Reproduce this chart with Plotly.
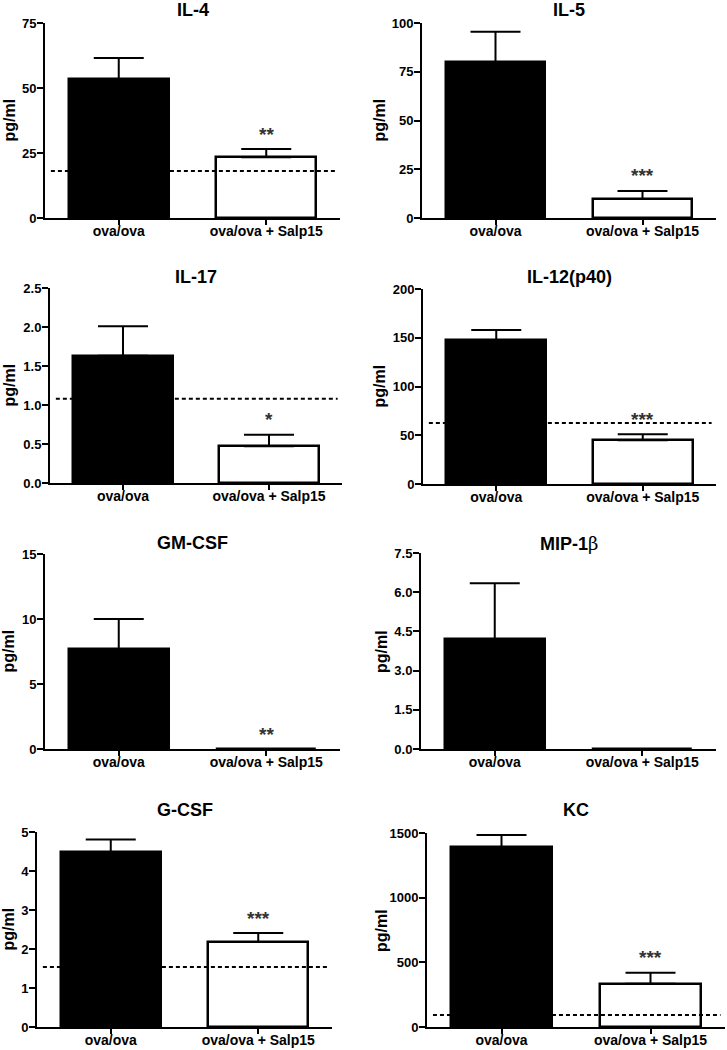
import plotly.graph_objects as go

# ---------------- data ----------------
categories = ["ova/ova", "ova/ova + Salp15"]
panel_titles = ["IL-4", "IL-5", "IL-17", "IL-12(p40)", "GM-CSF",
                "MIP-1<span style=\"font-family:DejaVu Serif;font-weight:normal\">β</span>", "G-CSF", "KC"]
means = [
    [53.5, 23.4],
    [80.0, 9.8],
    [1.63, 0.47],
    [147.5, 45.0],
    [7.7, 0.0],
    [4.21, 0.0],
    [4.48, 2.18],
    [1390, 335],
]
sems = [
    [8.0, 3.1],
    [15.5, 4.1],
    [0.38, 0.15],
    [10.5, 6.0],
    [2.3, 0.0],
    [2.13, 0.0],
    [0.33, 0.23],
    [95, 85],
]
baselines = [18.1, None, 1.08, 62.6, None, None, 1.54, 93]
stars = ["**", "***", "*", "***", "**", "", "***", "***"]
tick_vals = [
    [0, 25, 50, 75],
    [0, 25, 50, 75, 100],
    [0, 0.5, 1.0, 1.5, 2.0, 2.5],
    [0, 50, 100, 150, 200],
    [0, 5, 10, 15],
    [0, 1.5, 3.0, 4.5, 6.0, 7.5],
    [0, 1, 2, 3, 4, 5],
    [0, 500, 1000, 1500],
]
tick_formats = ["d", "d", ".1f", "d", "d", ".1f", "d", "d"]

# ---------------- layout (pixels) ----------------
W, H = 727, 1050
# (x_left, x_right, y_top, y_bottom) of each plot area in px
boxes = [
    (45, 340, 23, 218),
    (422, 716, 23, 218),
    (50, 342, 288, 483),
    (423, 716, 289, 484),
    (45, 340, 554, 749),
    (421, 716, 553, 749),
    (37, 332, 832, 1027),
    (427, 725, 833, 1027),
]
title_y = [10, 10, 277, 277, 543, 543, 810, 810]
ylabel_x = [9, 379, 9, 379, 8, 381, 8, 381]

FONT = "Liberation Sans, Arial, sans-serif"

def px(x):
    return x / W

def py(y):
    return 1 - y / H

fig = go.Figure()
annotations = []
shapes = []
layout_axes = {}

for i in range(8):
    n = i + 1
    xa = "x" if n == 1 else f"x{n}"
    ya = "y" if n == 1 else f"y{n}"
    xl, xr, yt, yb = boxes[i]
    fig.add_trace(go.Bar(
        x=[0, 1], y=means[i], xaxis=xa, yaxis=ya, width=0.68,
        marker=dict(color=["black", "white"], line=dict(color="black", width=2.5)),
        error_y=dict(type="data", array=sems[i], arrayminus=[0, 0], symmetric=False,
                     color="black", thickness=2, width=25, visible=True),
        showlegend=False, hoverinfo="skip",
    ))
    top = tick_vals[i][-1]
    key_x = "xaxis" if n == 1 else f"xaxis{n}"
    key_y = "yaxis" if n == 1 else f"yaxis{n}"
    layout_axes[key_x] = dict(
        domain=[px(xl), px(xr)], anchor=ya, range=[-0.5, 1.5], automargin=False,
        tickvals=[0, 1], ticktext=categories, ticks="outside", ticklen=5, tickwidth=2,
        tickcolor="black", showline=True, linewidth=2, linecolor="black",
        showgrid=False, zeroline=False, fixedrange=True, ticklabelstandoff=-6,
        tickfont=dict(family=FONT, size=14, color="black", weight="bold"),
    )
    layout_axes[key_y] = dict(
        domain=[py(yb), py(yt)], anchor=xa, range=[0, top], automargin=False,
        tickvals=tick_vals[i], tickformat=tick_formats[i], ticks="outside", ticklen=6,
        tickwidth=2, tickcolor="black", showline=True, linewidth=2, linecolor="black",
        showgrid=False, zeroline=False, fixedrange=True, ticklabelstandoff=-2,
        tickfont=dict(family=FONT, size=13, color="black", weight="bold"),
    )
    annotations.append(dict(
        text=panel_titles[i], x=px((xl + xr) / 2), y=py(title_y[i]), xref="paper", yref="paper",
        xanchor="center", yanchor="middle", showarrow=False,
        font=dict(family=FONT, size=18, color="black", weight="bold"),
    ))
    annotations.append(dict(
        text="pg/ml", x=px(ylabel_x[i]), y=py((yt + yb) / 2), xref="paper", yref="paper",
        xanchor="center", yanchor="middle", showarrow=False, textangle=-90,
        font=dict(family=FONT, size=16, color="black", weight="bold"),
    ))
    if stars[i]:
        annotations.append(dict(
            text=stars[i], x=1, y=means[i][1] + sems[i][1], xref=xa, yref=ya,
            xanchor="center", yanchor="middle", yshift=15, showarrow=False,
            font=dict(family=FONT, size=19, color="#333333", weight="bold"),
        ))
    if baselines[i] is not None:
        shapes.append(dict(
            type="line", xref=xa, yref=ya, x0=-0.46, x1=1.47,
            y0=baselines[i], y1=baselines[i], layer="above",
            line=dict(color="black", width=2, dash="4px,3px"),
        ))

fig.update_layout(
    width=W, height=H, margin=dict(l=0, r=0, t=0, b=0, autoexpand=False),
    paper_bgcolor="white", plot_bgcolor="white",
    annotations=annotations, shapes=shapes, bargap=0,
    **layout_axes,
)

fig.write_html(
    "out.html",
    config={"displayModeBar": False},
    post_script="document.body.style.margin='0';",
)
